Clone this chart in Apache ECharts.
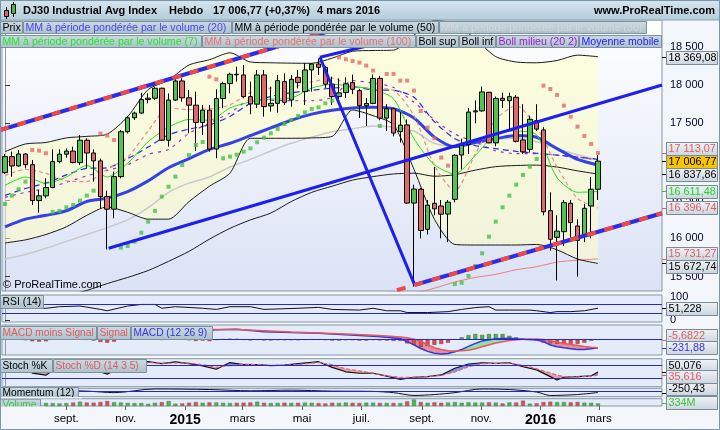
<!DOCTYPE html>
<html><head><meta charset="utf-8">
<script src="https://cdn.jsdelivr.net/npm/echarts@6/dist/echarts.min.js"></script>
<style>html,body{margin:0;padding:0;background:#fff}#c{width:720px;height:430px}</style>
</head><body><div id="c"></div>
<script>
// ---------- DATA (weekly, first bar = week of 30 June 2014) ----------
const firstWeek = '2014-06-30';
const opens = [16857,17066,16944,17100,16961,16493,16554,16663,17001,17098,
17138,16988,17280,17113,17010,16544,16380,16805,17391,17573,
17634,17810,17828,17958,17280,17804,18053,17833,17737,17511,
17672,17165,17824,18019,18140,18131,17848,17750,18131,17727,
17761,18044,17805,18100,17914,18196,18274,18231,18011,17849,
17901,18031,17927,17730,17760,18086,17568,17690,17392,17479,
16460,16640,16118,16457,16422,16317,16509,17087,17227,17650,
17663,17905,17245,17827,17796,17840,17283,17161,17535,17414,
16361,16013,16087,16457,16161,16044,16422,16640];
const highs = [17100,17131,17153,17109,17022,16631,16783,17161,17161,17174,
17196,17348,17305,17161,17040,16622,16870,17413,17596,17653,
17900,17892,17970,17965,17892,18074,18087,17935,17913,17740,
17740,17944,18044,18161,18240,18261,18044,18196,18196,17979,
18131,18153,18131,18196,18283,18283,18348,18250,18109,18088,
18100,18136,17950,17830,18137,18120,17750,17700,17650,17550,
16700,16660,16500,16933,16500,16500,17100,17300,17700,17800,
17980,17910,17850,17900,17900,17870,17750,17600,17750,17450,
16600,16300,16500,16500,16250,16450,16800,17090];
const lows = [16840,16805,16935,16913,16435,16335,16522,16653,16979,17053,
16979,16957,16913,16740,16392,15855,16261,16783,17370,17544,
17620,17761,17805,17274,17196,17790,17783,17370,17138,17348,
17131,17044,17696,17892,18044,17826,17618,17700,17587,17653,
17639,17740,17718,17957,17740,17913,18131,17960,17740,17740,
17830,17880,17570,17465,17750,17540,17400,17330,17250,16450,
15370,16000,16050,16300,16000,15950,16470,16900,17100,17500,
17650,17240,17200,17700,17420,17250,17100,17120,17400,16300,
15840,15450,15900,15950,15500,15950,16000,16500];
const closes = [17066,16944,17100,16961,16493,16554,16663,17001,17098,17138,
16988,17280,17113,17010,16544,16380,16805,17391,17573,17634,
17810,17828,17958,17280,17804,18053,17833,17737,17511,17672,
17165,17824,18019,18140,18133,17848,17753,18131,17718,17761,
18057,17775,18074,18031,18196,18274,18231,18011,17849,17898,
18015,17944,17730,17760,18086,17568,17690,17373,17477,16460,
16643,16102,16433,16385,16315,16472,17084,17216,17647,17663,
17910,17245,17824,17798,17848,17265,17128,17553,17425,16346,
15988,16094,16466,16205,15974,16392,16640,17006.77];
const volumes = [380,360,400,420,480,430,400,380,330,380,
450,560,450,430,520,650,480,450,400,370,
390,280,420,500,640,300,330,430,520,420,
470,460,420,380,420,430,460,560,420,370,
400,430,400,420,440,420,380,330,420,400,
450,410,400,430,430,400,400,390,380,600,
850,520,420,470,420,450,500,420,470,440,
450,480,440,330,470,450,700,300,350,520,
560,500,510,470,520,430,420,334];
const sarGreen = [16448,16557,16640,16740,null,null,null,16344,16357,16405,
16435,16492,16557,16622,null,null,null,15879,15900,15957,
16074,16218,16357,16544,16674,16805,16957,17087,17218,17257,
null,null,17044,17066,17090,17131,17174,17253,17313,17370,
17427,17492,17544,17596,17644,17687,17709,17761,17796,null,
null,null,null,null,null,17466,null,null,null,null,
null,null,null,null,null,null,15404,15422,15509,15639,
15805,16022,16218,16405,16557,16700,16827,16935,17035,null,
null,null,null,null,null,null,null,null];
const sarRed = [null,null,null,null,17153,17144,17110,null,null,null,
null,null,null,null,17366,17340,17283,null,null,null,
null,null,null,null,null,null,null,null,null,null,
18109,18074,null,null,null,null,null,null,null,null,
null,null,null,null,null,null,null,null,null,18361,
18335,18313,18292,18253,18187,null,18144,18144,18057,18057,
17927,17661,17444,17305,17053,16948,null,null,null,null,
null,null,null,null,null,null,null,null,null,17992,
17948,17870,17731,17587,17457,17335,17231,17113.07];

// overlay lines, read every 3 weeks
const lineIdx = [0,3,6,9,12,15,18,21,24,27,30,33,36,39,42,45,48,51,54,57,60,63,66,69,72,75,78,81,84,87];
const bbUpper = [17130,17231,17250,17310,17330,17360,17587,17940,18066,18261,18330,18420,18300,18290,18285,18283,18350,18440,18450,18455,18650,18840,18800,18600,18370,18300,18290,18320,18390,18369.08];
const bbLower = [15940,15980,16050,16150,16300,16410,16340,16250,16250,16480,16680,16850,17305,17305,17305,17310,17330,17674,17600,17480,16900,16250,15920,15913,15913,15913,15920,15850,15730,15672.74];
const bbMid = [16535,16600,16650,16730,16815,16885,16960,17095,17160,17370,17505,17635,17800,17800,17795,17795,17840,18057,18025,17968,17775,17545,17360,17256,17141,17106,17105,17085,17060,17021];
const mm20 = [16560,16650,16720,16827,16913,16920,17040,17190,17350,17425,17480,17590,17760,17850,17900,17930,17960,17975,17935,17930,17840,17520,17300,17210,17170,17135,17110,17085,17060,17031];
const mm7 = [16690,16800,16718,16800,16950,16800,16980,17260,17450,17550,17540,17700,17780,17815,17830,17960,18010,17979,17945,17820,17300,16960,16840,17080,17360,17400,17348,16790,16600,16611.48];
const mm30 = [15730,15790,15870,15960,16050,16140,16240,16400,16600,16720,16800,16930,17030,17140,17240,17320,17390,17430,17466,17450,17400,17240,17200,17270,17295,17305,17260,17170,17090,17022];
const mm50 = [14950,15050,15150,15250,15320,15410,15490,15580,15700,15830,15990,16130,16240,16330,16480,16600,16680,16760,16805,16840,16850,16810,16830,16890,16935,16950,16955,16930,16880,16837.86];
const mm100 = [14350,14420,14490,14560,14630,14700,14760,14830,14900,14970,15030,15080,15120,15160,15190,15220,15240,15260,15280,15300,15290,15350,15430,15490,15530,15590,15630,15690,15715,15731.27];
const maThick = [16150,16250,16300,16360,16480,16525,16610,16750,16920,17040,17160,17240,17340,17440,17540,17620,17672,17700,17710,17690,17570,17320,17196,17250,17300,17340,17318,17170,17030,16957];
const pinkDash = [16820,16900,16848,16750,16740,16900,17060,17400,17700,17680,17690,17740,17900,17960,17970,18040,18090,17980,17960,17930,17600,16950,16620,17100,17550,17730,17450,16930,16520,16396.74];

// drawn trend lines: [week, price] end points
const tlTopChannel = [[-0.73,17413],[50,18770]];
const tlBottomRed = [[57.5,15325],[96.4,16327]];
const tlBottomBlue = [[60.1,15392],[96.4,16327]];
const tlSupport = [[15.2,15871],[96.4,18000]];
const tlDown = [[46.2,18362],[60.1,15392]];
const tlUpShort = [[46.2,18362],[56,18570]];

// indicators
const rsiIdx = [0,2,4,6,8,11,14,15,18,20,22,23,25,29,31,33,36,38,43,46,48,52,54,56,58,59,62,65,67,69,71,72,74,77,78,80,81,83,85,87];
const rsiVals = [55,57,50,51,58,61,46,40,61,68,68,51,58,51,46,58,58,46,51,55,46,43,51,40,40,32,32,36,46,54,58,43,43,43,40,32,36,36,40,51.228];
const macdIdx = [0,4,8,12,15,18,22,26,30,34,38,42,46,50,54,56,58,59,60,61,62,63,64,65,66,67,68,69,70,72,74,76,78,79,80,81,82,83,84,85,86,87];
const macdVals = [150,100,120,160,60,150,300,320,260,280,216,190,172,130,90,60,20,-60,-150,-250,-330,-380,-402,-390,-338,-280,-190,-110,-40,20,33,5,-14,-60,-152,-200,-230,-255,-280,-275,-258,-231.88];
const signalVals = [140,125,110,140,110,120,230,290,280,275,240,205,182,150,115,95,65,45,5,-40,-150,-230,-280,-310,-320,-315,-300,-260,-200,-100,-30,5,10,0,-30,-75,-110,-140,-170,-195,-215,-226.2];
const macdHist = [20,10,5,-20,-50,-60,-50,10,30,30,10,15,-5,-30,-70,-90,-60,20,60,70,
70,50,40,-10,0,20,5,-20,-40,-30,-45,-10,5,20,15,-10,-25,-10,-25,-25,
-15,-20,-15,-20,-5,0,0,-15,-30,-30,-20,-20,-30,-30,-15,-25,-30,-40,-40,-110,
-150,-215,-180,-150,-125,-90,0,60,120,150,125,150,150,150,100,60,30,10,-20,-90,
-110,-125,-125,-125,-125,-90,-35,-5.6822];
const stochIdx = [0,2,4,6,8,10,12,14,15,17,19,21,23,25,27,29,31,33,35,37,39,41,43,45,46,48,50,52,54,56,58,60,62,64,66,68,70,72,74,76,78,80,81,82,84,86,87];
const stochK = [85,90,45,35,80,90,80,50,40,75,95,99,90,98,90,79,63,95,85,85,80,83,90,96,99,72,51,44,44,30,15,25,28,36,68,88,94,91,94,75,60,28,12,25,28,32,50.076];
const stochD = [80,85,65,45,60,85,85,65,50,60,85,95,92,93,92,85,72,80,88,85,82,82,86,92,95,85,65,55,45,32,25,25,28,33,50,75,90,91,92,82,65,45,35,28,26,30,35.616];
const momIdx = [0,6,12,16,22,30,36,42,48,54,57,60,63,66,70,74,78,80,84,87];
const momVals = [300,400,200,-300,900,700,300,500,200,100,-300,-1200,-900,-300,900,700,-100,-1200,-900,-250.43];

// axis ticks
const monthTicks = ['2014-09-01','2014-11-01','2015-01-01','2015-03-01','2015-05-01','2015-07-01','2015-09-01','2015-11-01','2016-01-01','2016-03-01'];
const monthLabels = ['sept.','nov.','2015','mars','mai','juil.','sept.','nov.','2016','mars'];
const priceTicks = [15500,16000,16500,17000,17500,18000,18500];
const rsiTicks = [0,100];

// ---------- CHART ----------
const FONT = '"Liberation Sans", Arial, sans-serif';
const XMIN = -0.44, XMAX = 96.39;
const weekMs = 7*864e5;
const tickPos = monthTicks.map(d => (Date.parse(d) - Date.parse(firstWeek)) / weekMs);
const chart = echarts.init(document.getElementById('c'), null, {renderer:'canvas', width:720, height:430});

const grad = (a,b) => new echarts.graphic.LinearGradient(0,0,0,1,[{offset:0,color:a},{offset:1,color:b}]);
const gridBase = {left:2, width:660, show:true, borderColor:'#8797A4', borderWidth:1, backgroundColor:'#E4EBF9'};
const grids = [
  Object.assign({}, gridBase, {top:20, height:271, backgroundColor: grad('#FFFFFF','#DAE2F5')}),
  Object.assign({}, gridBase, {top:295, height:27}),
  Object.assign({}, gridBase, {top:325, height:30}),
  Object.assign({}, gridBase, {top:358.7, height:28}),
  Object.assign({}, gridBase, {top:388.3, height:8.4}),
  Object.assign({}, gridBase, {top:398.7, height:7.3})
];
const xAxes = grids.map((g,k) => ({
  type:'value', gridIndex:k, min:XMIN, max:XMAX, show: k===5,
  axisLine:{show:false}, splitLine:{show:false},
  axisTick: k===5 ? {show:true, customValues: tickPos, length:4, lineStyle:{color:'#666'}} : {show:false},
  axisLabel: k===5 ? {show:true, customValues: tickPos, margin:7, color:'#000', fontSize:11.5, fontFamily:FONT,
     formatter: v => { let j = tickPos.findIndex(t => Math.abs(t-v) < 1e-6); if (j<0) return ''; const s = monthLabels[j]; return /^\d{4}$/.test(s) ? '{y|'+s+'}' : s; },
     rich:{y:{fontSize:14, fontWeight:'bold', color:'#000', fontFamily:FONT}}} : {show:false}
}));
const yBase = {type:'value', position:'right', splitLine:{show:false}, axisLine:{show:true, lineStyle:{color:'#8797A4'}}};
const yAxes = [
  Object.assign({}, yBase, {gridIndex:0, min:15313, max:18848,
    axisTick:{show:true, customValues:priceTicks, length:5, lineStyle:{color:'#333'}},
    axisLabel:{show:true, customValues:priceTicks, margin:8, color:'#000033', fontSize:11, fontFamily:FONT,
      formatter: v => String(v).replace(/\B(?=(\d{3})+(?!\d))/g,' ')}}),
  Object.assign({}, yBase, {gridIndex:1, min:-10, max:110,
    axisTick:{show:true, customValues:rsiTicks, length:5, lineStyle:{color:'#333'}},
    axisLabel:{show:true, customValues:rsiTicks, margin:8, color:'#000033', fontSize:11, fontFamily:FONT}}),
  Object.assign({}, yBase, {gridIndex:2, min:-430, max:400, axisTick:{show:false}, axisLabel:{show:false}}),
  Object.assign({}, yBase, {gridIndex:3, min:-20, max:113.33, axisTick:{show:false}, axisLabel:{show:false}}),
  Object.assign({}, yBase, {gridIndex:4, min:-1600, max:1100, axisTick:{show:false}, axisLabel:{show:false}}),
  Object.assign({}, yBase, {gridIndex:5, min:0, max:950, axisTick:{show:false}, axisLabel:{show:false}})
];

function pairs(idx, vals){ return idx.map((x,k)=>[x, vals[k]]); }
function lineS(idx, vals, color, width, type, ax, z, smooth){
  return {type:'line', xAxisIndex:ax||0, yAxisIndex:ax||0, data:pairs(idx, vals), symbol:'none', showSymbol:false,
    smooth: smooth===undefined ? 0.25 : smooth, lineStyle:{color, width, type:type||'solid'}, silent:true, z:z||2, clip:true};
}
function hLines(vals){
  return {silent:true, symbol:'none', label:{show:false}, lineStyle:{color:'#2626D8', width:1, type:'solid'},
    data: vals.map(v=>({yAxis:v}))};
}
function bandFill(idx, top, bot, fill){
  return {type:'custom', coordinateSystem:'cartesian2d', xAxisIndex:0, yAxisIndex:0, clip:true, silent:true, z:1,
    data:[[idx[0], bot[0]]],
    renderItem:(p, api) => {
      const pts = [];
      for (let k=0;k<idx.length;k++) pts.push(api.coord([idx[k], top[k]]));
      for (let k=idx.length-1;k>=0;k--) pts.push(api.coord([idx[k], bot[k]]));
      return {type:'polygon', shape:{points:pts}, style:{fill}};
    }};
}
function diffFill(idx, a, b, colUp, colDn, ax){
  return {type:'custom', coordinateSystem:'cartesian2d', xAxisIndex:ax, yAxisIndex:ax, clip:true, silent:true, z:1,
    data:[[idx[0], a[0]]],
    renderItem:(p, api) => {
      const ch = [];
      const poly = (pts, d) => ch.push({type:'polygon', shape:{points:pts.map(q=>api.coord(q))}, style:{fill: d>=0 ? colUp : colDn}});
      for (let k=0;k<idx.length-1;k++){
        const d0 = a[k]-b[k], d1 = a[k+1]-b[k+1];
        if (d0*d1 < 0){
          const t = d0/(d0-d1), xc = idx[k]+t*(idx[k+1]-idx[k]), yc = a[k]+t*(a[k+1]-a[k]);
          poly([[idx[k],a[k]],[xc,yc],[idx[k],b[k]]], d0);
          poly([[xc,yc],[idx[k+1],a[k+1]],[idx[k+1],b[k+1]]], d1);
        } else {
          poly([[idx[k],a[k]],[idx[k+1],a[k+1]],[idx[k+1],b[k+1]],[idx[k],b[k]]], d0+d1);
        }
      }
      return {type:'group', children:ch};
    }};
}
function tline(pts, color, width, type, z){
  return {type:'line', xAxisIndex:0, yAxisIndex:0, data:pts, symbol:'none', showSymbol:false, silent:true, clip:true, z:z||5,
    lineStyle:{color, width, type:type||'solid', cap:'butt'}};
}

const candleData = closes.map((c,i)=>[i, opens[i], c, lows[i], highs[i]]);
const series = [
  bandFill(lineIdx, bbUpper, bbLower, 'rgba(255,255,196,0.55)'),
  lineS(lineIdx, mm30, '#C9C9C9', 1.5),
  lineS(lineIdx, mm100, '#F07A7A', 1),
  lineS(lineIdx, mm50, '#1A1A1A', 1),
  lineS(lineIdx, bbUpper, '#1A1A1A', 1),
  lineS(lineIdx, bbLower, '#1A1A1A', 1),
  lineS(lineIdx, maThick, '#3441E6', 3),
  lineS(lineIdx, bbMid, '#A32CD0', 1.2, [3,5]),
  lineS(lineIdx, mm20, '#2A2AEE', 1.2, [6,4]),
  lineS(lineIdx, pinkDash, '#EE8A8A', 1.2, [4,3]),
  lineS(lineIdx, mm7, '#1FE01F', 1),
  {type:'candlestick', xAxisIndex:0, yAxisIndex:0, data:candleData, barWidth:5, z:3, silent:true,
    encode:{x:0, y:[1,2,3,4]},
    itemStyle:{color:'#4FC54F', color0:'#E06868', borderColor:'#000', borderColor0:'#000', borderWidth:1}},
  {type:'scatter', xAxisIndex:0, yAxisIndex:0, data:sarGreen.map((v,i)=>[i,v]).filter(d=>d[1]!==null), symbol:'rect', symbolSize:4, itemStyle:{color:'#45C045'}, z:4, silent:true},
  {type:'scatter', xAxisIndex:0, yAxisIndex:0, data:sarRed.map((v,i)=>[i,v]).filter(d=>d[1]!==null), symbol:'rect', symbolSize:4, itemStyle:{color:'#E56A6A'}, z:4, silent:true},
  tline(tlTopChannel, '#2C2CE8', 4),
  tline(tlTopChannel, '#F04848', 4, [9,9], 6),
  tline(tlBottomBlue, '#2C2CE8', 4),
  tline(tlBottomRed, '#F04848', 4, [9,9], 6),
  tline(tlSupport, '#1E1EF0', 3),
  tline(tlDown, '#1E1EF0', 3),
  tline(tlUpShort, '#1E1EF0', 3),
  // RSI
  Object.assign(lineS(rsiIdx, rsiVals, '#111', 1, 'solid', 1, 3, 0), {markLine: hLines([70,30])}),
  // MACD
  diffFill(macdIdx, macdVals, signalVals, 'rgba(120,220,130,0.75)', 'rgba(228,120,128,0.8)', 2),
  {type:'bar', xAxisIndex:2, yAxisIndex:2, barWidth:4, silent:true, z:2,
    data: macdHist.map((h,i)=>({value:[i,h], itemStyle:{color: h>=0 ? '#38C038' : '#D84C4C', borderColor:'#7A3030', borderWidth:0.4}})),
    markLine: hLines([0])},
  lineS(macdIdx, macdVals, '#3434E2', 1.5, 'solid', 2, 3, 0),
  lineS(macdIdx, signalVals, '#E25A5A', 1.5, 'solid', 2, 3, 0),
  // Stoch
  diffFill(stochIdx, stochK, stochD, 'rgba(100,110,225,0.75)', 'rgba(228,140,150,0.8)', 3),
  Object.assign(lineS(stochIdx, stochK, '#111', 1.2, 'solid', 3, 3, 0), {markLine: hLines([80,20])}),
  lineS(stochIdx, stochD, '#E06A6A', 1.2, [4,2], 3, 3, 0),
  // Momentum
  Object.assign(lineS(momIdx, momVals, '#111', 1, 'solid', 4, 3, 0.3), {markLine: hLines([0])}),
  // Volume
  {type:'bar', xAxisIndex:5, yAxisIndex:5, barWidth:4, silent:true,
    data: volumes.map((v,i)=>({value:[i,v], itemStyle:{color: closes[i]>=opens[i] ? '#3CC23C' : '#E05050', borderColor:'#555', borderWidth:0.4}}))}
];

chart.setOption({
  animation:false, backgroundColor:'#F3F6FA', textStyle:{fontFamily:FONT},
  grid:grids, xAxis:xAxes, yAxis:yAxes, series
});

// ---------- GRAPHICS: title, legends, value tags ----------
const G = [];
const Z = 100;
G.push({type:'rect', shape:{x:0,y:0,width:720,height:20}, style:{fill:grad('#D6E6EF','#B4CCDA'), stroke:'#8DA6B6', lineWidth:1}, z:Z});
// tiny candle icon
G.push({type:'line', shape:{x1:6.5,y1:7,x2:6.5,y2:19}, style:{stroke:'#000',lineWidth:1}, z:Z+1});
G.push({type:'rect', shape:{x:4.5,y:10.5,width:4,height:6}, style:{fill:'#E06060', stroke:'#000', lineWidth:1}, z:Z+2});
G.push({type:'line', shape:{x1:13.5,y1:2,x2:13.5,y2:17}, style:{stroke:'#000',lineWidth:1}, z:Z+1});
G.push({type:'rect', shape:{x:11.5,y:4.5,width:4,height:9}, style:{fill:'#40C040', stroke:'#000', lineWidth:1}, z:Z+2});
const tfont = 'bold 11px ' + FONT;
[['DJ30 Industrial Avg Index',23],['Hebdo',169],['17 006,77 (+0,37%)',213],['4 mars 2016',317]].forEach(t =>
  G.push({type:'text', x:t[1], y:11, style:{text:t[0], fill:'#000', font:tfont, textVerticalAlign:'middle'}, z:Z+1}));
G.push({type:'text', x:715, y:11, style:{text:'www.ProRealTime.com', fill:'#000', font:tfont, textAlign:'right', textVerticalAlign:'middle'}, z:Z+1});

function box(x,y,w,h,txt,col,fs){
  G.push({type:'rect', shape:{x:x+0.5,y:y+0.5,width:w-1,height:h-1}, style:{fill:grad('#CCDAE2','#ACC1CC'), stroke:'#7D92A0', lineWidth:1}, z:Z});
  G.push({type:'text', x:x+2.5, y:y+h/2+0.5, style:{text:txt, fill:col, font:(fs||10.6)+'px '+FONT, textVerticalAlign:'middle'}, z:Z+1});
}
box(0,21,23,13,'Prix','#000');
box(23,21,209,13,'MM à période pondérée par le volume (20)','#4646EE');
box(232,21,207,13,'MM à période pondérée par le volume (50)','#000');
box(439,21,208,13,'MM à période pondérée par le volume (30)','#D6D6D6');
box(0,35,202,13,'MM à période pondérée par le volume (7)','#1EEA1E');
box(202,35,214,13,'MM à période pondérée par le volume (100)','#EE6E6E');
box(416,35,43,13,'Boll sup','#000');
box(459,35,37,13,'Boll inf','#000');
box(496,35,83,13,'Boll milieu (20 2)','#9A1ECB');
box(579,35,83,13,'Moyenne mobile','#2222F5');
G.push({type:'text', x:3, y:285, style:{text:'© ProRealTime.com', fill:'#000', font:'11px '+FONT, textVerticalAlign:'middle'}, z:Z+1});
box(0,295,44,14,'RSI (14)','#000',10.4);
box(0,326,97,14,'MACD moins Signal','#E05C5C',10.2);
box(97,326,34,14,'Signal','#E05C5C',10.2);
box(131,326,82,14,'MACD (12 26 9)','#3434DC',10.2);
box(0,359,53,14,'Stoch %K','#000',10.2);
box(53,359,94,14,'Stoch %D (14 3 5)','#E05C5C',10.2);
box(0,387,79,12,'Momentum (12)','#000',10.2);
G.push({type:'rect', shape:{x:0,y:396.9,width:82,height:1.7}, style:{fill:'#F3F6FA'}, z:Z+2});
box(0,398.7,41,11,'Volume','#3CC23C',10.2);
G.push({type:'rect', shape:{x:0,y:406.5,width:45,height:6}, style:{fill:'#F3F6FA'}, z:Z+2});

function fmt(v, d){
  const s = Math.abs(v).toFixed(d).split('.');
  const ip = s[0].replace(/\B(?=(\d{3})+(?!\d))/g,' ');
  return (v<0?'-':'') + ip + (d ? ','+s[1] : '');
}
const L = a => a[a.length-1];
const tags = [
  {ax:5, v:L(volumes), t:L(volumes)+'M', c:'#3CC23C', dy:-1},
  {ax:4, v:L(momVals), t:fmt(L(momVals),2), c:'#000', dy:-4},
  {ax:3, v:L(stochK), t:fmt(L(stochK),3), c:'#000', dy:-6.3},
  {ax:3, v:L(stochD), t:fmt(L(stochD),3), c:'#E05C5C', dy:1.7},
  {ax:2, v:L(macdHist), t:fmt(L(macdHist),4), c:'#E05C5C', dy:-4.6},
  {ax:2, v:L(macdVals), t:fmt(L(macdVals),2), c:'#3434E0', dy:0},
  {ax:1, v:L(rsiVals), t:fmt(L(rsiVals),3), c:'#000', dy:0},
  {ax:0, v:L(bbUpper), t:fmt(L(bbUpper),2), c:'#000', dy:0.6},
  {ax:0, v:L(sarRed), t:fmt(L(sarRed),2), c:'#E05C5C', dy:-4.7},
  {ax:0, v:L(closes), t:fmt(L(closes),2), c:'#000', dy:0, bg:'#F7C400'},
  {ax:0, v:L(mm50), t:fmt(L(mm50),2), c:'#000', dy:0.8},
  {ax:0, v:L(mm7), t:fmt(L(mm7),2), c:'#18D818', dy:0},
  {ax:0, v:L(pinkDash), t:fmt(L(pinkDash),2), c:'#E05C5C', dy:0},
  {ax:0, v:L(mm100), t:fmt(L(mm100),2), c:'#E05C5C', dy:-5.6},
  {ax:0, v:L(bbLower), t:fmt(L(bbLower),2), c:'#000', dy:3.2}
];
let zt = Z+10;
tags.forEach(tg => {
  const yv = chart.convertToPixel({yAxisIndex:tg.ax}, tg.v);
  const y = yv + tg.dy;
  G.push({type:'line', shape:{x1:662,y1:Math.round(yv)+0.5,x2:667,y2:Math.round(yv)+0.5}, style:{stroke:tg.c, lineWidth:1}, z:zt});
  G.push({type:'rect', shape:{x:666.5,y:Math.round(y-6.5)+0.5,width:51,height:13}, style:{fill: tg.bg || grad('#EFF3F7','#CAD5DE'), stroke:'#7B8A97', lineWidth:1}, z:zt+1});
  G.push({type:'text', x:668.5, y:Math.round(y-6.5)+7.2, style:{text:tg.t, fill:tg.c, font:'10.8px '+FONT, textVerticalAlign:'middle'}, z:zt+2});
  zt += 3;
});
G.push({type:'rect', shape:{x:0.5,y:0.5,width:719,height:429}, style:{fill:'none', stroke:'#7A96AA', lineWidth:1}, z:Z+200});
chart.setOption({graphic: G});
</script>
</body></html>
